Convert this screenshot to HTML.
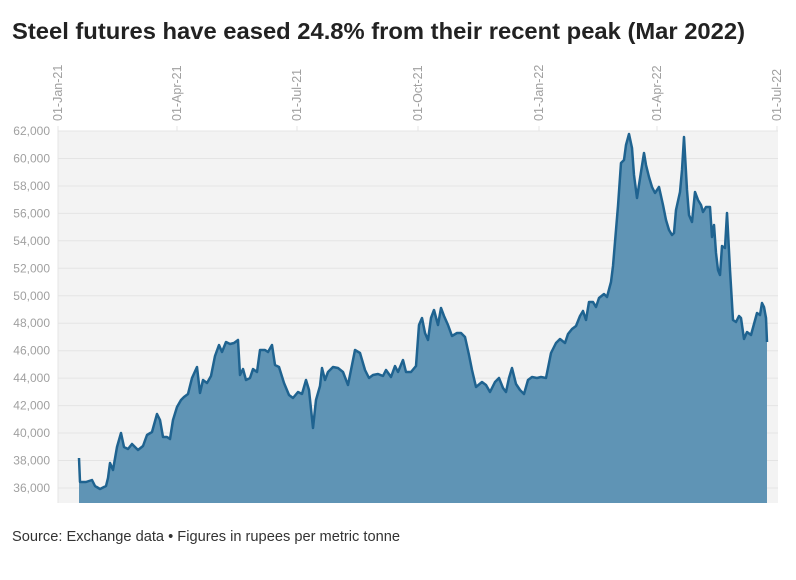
<!DOCTYPE html>
<html><head><meta charset="utf-8"><style>
body{margin:0;background:#fff;width:796px;height:575px;overflow:hidden;font-family:"Liberation Sans",sans-serif}
</style></head><body>
<svg width="796" height="575" xmlns="http://www.w3.org/2000/svg" font-family="Liberation Sans, sans-serif">
<text x="12" y="39" font-size="23" font-weight="bold" fill="#222" textLength="733" lengthAdjust="spacingAndGlyphs">Steel futures have eased 24.8% from their recent peak (Mar 2022)</text>
<rect x="58" y="131" width="720" height="372" fill="#f3f3f3"/>
<g stroke="#e4e4e4" stroke-width="1">
<line x1="58" x2="778" y1="131" y2="131"/><line x1="58" x2="778" y1="158.5" y2="158.5"/><line x1="58" x2="778" y1="186" y2="186"/><line x1="58" x2="778" y1="213.4" y2="213.4"/><line x1="58" x2="778" y1="240.8" y2="240.8"/><line x1="58" x2="778" y1="268.3" y2="268.3"/><line x1="58" x2="778" y1="295.8" y2="295.8"/><line x1="58" x2="778" y1="323.2" y2="323.2"/><line x1="58" x2="778" y1="350.7" y2="350.7"/><line x1="58" x2="778" y1="378.1" y2="378.1"/><line x1="58" x2="778" y1="405.6" y2="405.6"/><line x1="58" x2="778" y1="433" y2="433"/><line x1="58" x2="778" y1="460.5" y2="460.5"/><line x1="58" x2="778" y1="488" y2="488"/>
<line x1="58" x2="58" y1="126" y2="503"/>
<line x1="177" x2="177" y1="126" y2="131"/><line x1="297" x2="297" y1="126" y2="131"/><line x1="418" x2="418" y1="126" y2="131"/><line x1="539" x2="539" y1="126" y2="131"/><line x1="657" x2="657" y1="126" y2="131"/><line x1="777" x2="777" y1="126" y2="131"/>
</g>
<g font-size="12" fill="#a0a0a0" text-anchor="end">
<text x="50" y="135">62,000</text><text x="50" y="162.5">60,000</text><text x="50" y="190">58,000</text><text x="50" y="217.4">56,000</text><text x="50" y="244.8">54,000</text><text x="50" y="272.3">52,000</text><text x="50" y="299.8">50,000</text><text x="50" y="327.2">48,000</text><text x="50" y="354.7">46,000</text><text x="50" y="382.1">44,000</text><text x="50" y="409.6">42,000</text><text x="50" y="437">40,000</text><text x="50" y="464.5">38,000</text><text x="50" y="492">36,000</text>
</g>
<g font-size="12.5" fill="#a0a0a0">
<text transform="translate(62,121) rotate(-90)">01-Jan-21</text>
<text transform="translate(181,121) rotate(-90)">01-Apr-21</text>
<text transform="translate(301,121) rotate(-90)">01-Jul-21</text>
<text transform="translate(422,121) rotate(-90)">01-Oct-21</text>
<text transform="translate(543,121) rotate(-90)">01-Jan-22</text>
<text transform="translate(661,121) rotate(-90)">01-Apr-22</text>
<text transform="translate(781,121) rotate(-90)">01-Jul-22</text>
</g>
<path fill="#5f94b5" stroke="none" d="M79,503 L79,458 80,482 86,482 92,480 95,486 100,489 106,486 108,478 110,463 113,470 117,447 121,433 124,447 128,449 132,444 138,450 143,446 147,435 152,432 157,414 160,420 163,437 167,437 170,439 173,420 177,407 181,400 184,397 188,394 192,378 197,367 200,393 203,380 207,383 211,376 215,356 219,345 222,352 226,342 230,344 234,343 238,340 240,375 243,369 246,380 250,378 253,369 257,372 260,350 265,350 268,352 272,345 275,365 279,367 284,383 289,395 293,398 298,392 302,394 306,380 309,390 313,428 316,400 320,386 322,368 325,380 328,372 333,367 338,368 343,372 348,385 351,370 355,350 360,353 365,370 369,378 373,375 378,374 383,376 386,370 391,377 395,366 398,372 403,360 406,372 411,372 416,366 419,325 422,318 425,333 428,340 431,318 434,310 438,325 441,308 444,316 448,325 452,336 457,333 461,333 465,337 469,355 472,370 476,387 482,382 486,385 490,392 495,382 499,378 503,388 506,392 509,378 512,368 516,384 520,390 524,394 528,380 532,377 537,378 541,377 546,378 551,353 556,343 560,339 565,343 568,334 572,329 576,326 580,316 583,311 586,320 589,302 593,302 596,307 599,298 604,294 607,297 611,282 613,266 618,206 621,163 624,160 626,145 629,134 632,148 634,175 637,198 641,172 644,153 646,165 649,177 652,187 655,193 659,187 663,205 666,220 669,230 672,235 674,233 676,210 680,192 682,170 684,137 687,190 689,215 692,222 695,192 698,200 701,205 703,212 706,207 710,207 712,237 714,225 716,253 718,270 720,275 722,246 725,248 727,213 730,270 733,320 736,322 739,316 741,318 744,339 747,332 751,335 754,324 757,313 760,315 762,303 764,307 766,318 767,342 L767,503 Z"/>
<polyline fill="none" stroke="#1f6390" stroke-width="2.5" stroke-linejoin="round" points="79,458 80,482 86,482 92,480 95,486 100,489 106,486 108,478 110,463 113,470 117,447 121,433 124,447 128,449 132,444 138,450 143,446 147,435 152,432 157,414 160,420 163,437 167,437 170,439 173,420 177,407 181,400 184,397 188,394 192,378 197,367 200,393 203,380 207,383 211,376 215,356 219,345 222,352 226,342 230,344 234,343 238,340 240,375 243,369 246,380 250,378 253,369 257,372 260,350 265,350 268,352 272,345 275,365 279,367 284,383 289,395 293,398 298,392 302,394 306,380 309,390 313,428 316,400 320,386 322,368 325,380 328,372 333,367 338,368 343,372 348,385 351,370 355,350 360,353 365,370 369,378 373,375 378,374 383,376 386,370 391,377 395,366 398,372 403,360 406,372 411,372 416,366 419,325 422,318 425,333 428,340 431,318 434,310 438,325 441,308 444,316 448,325 452,336 457,333 461,333 465,337 469,355 472,370 476,387 482,382 486,385 490,392 495,382 499,378 503,388 506,392 509,378 512,368 516,384 520,390 524,394 528,380 532,377 537,378 541,377 546,378 551,353 556,343 560,339 565,343 568,334 572,329 576,326 580,316 583,311 586,320 589,302 593,302 596,307 599,298 604,294 607,297 611,282 613,266 618,206 621,163 624,160 626,145 629,134 632,148 634,175 637,198 641,172 644,153 646,165 649,177 652,187 655,193 659,187 663,205 666,220 669,230 672,235 674,233 676,210 680,192 682,170 684,137 687,190 689,215 692,222 695,192 698,200 701,205 703,212 706,207 710,207 712,237 714,225 716,253 718,270 720,275 722,246 725,248 727,213 730,270 733,320 736,322 739,316 741,318 744,339 747,332 751,335 754,324 757,313 760,315 762,303 764,307 766,318 767,342"/>
<text x="12" y="541" font-size="15" fill="#333" textLength="388" lengthAdjust="spacingAndGlyphs">Source: Exchange data • Figures in rupees per metric tonne</text>
</svg>
</body></html>
